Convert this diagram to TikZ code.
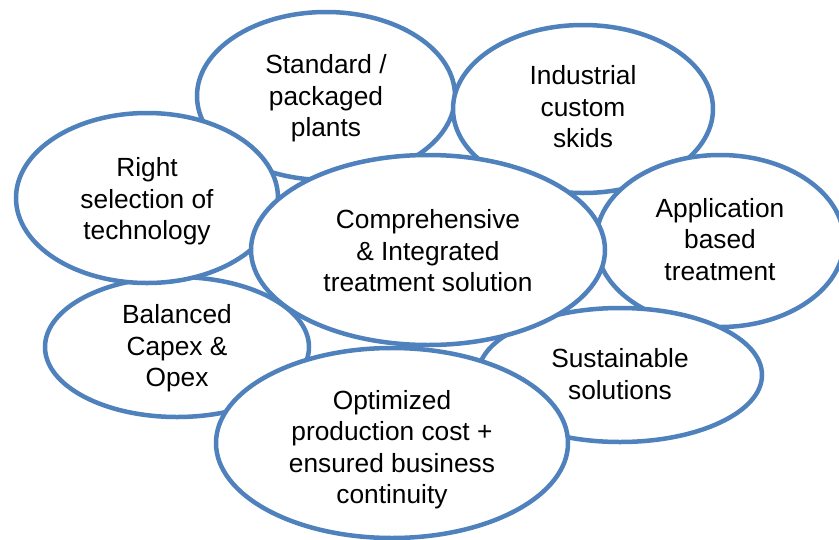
\documentclass[tikz,border=0pt]{standalone}
\usepackage{fontspec}
\setmainfont{Liberation Sans}
\usetikzlibrary{shapes.geometric}
\definecolor{bubbleblue}{RGB}{79,129,189}
% centred lines, lowered a little inside the bubble
\newcommand{\bubbletext}[2]{\raisebox{-#1}[\height][\depth]{\begin{tabular}{@{}c@{}}#2\end{tabular}}}

\begin{document}
\begin{tikzpicture}[x=1pt,y=-1pt,
    bubble/.style={ellipse,draw=bubbleblue,line width=4.5pt,fill=white,
      inner sep=0pt,font=\fontsize{26.3}{31.5}\selectfont}]
  \useasboundingbox (0,0) rectangle (839,539);
  % outer ring, back to front
  \node[bubble,minimum width=258pt,minimum height=168pt] (standard) at (326,96) {\bubbletext{3pt}{Standard /\\packaged\\plants}};
  \node[bubble,minimum width=264pt,minimum height=140pt] (balanced) at (177,347) {\bubbletext{2pt}{Balanced\\Capex \&\\Opex}};
  \node[bubble,minimum width=262pt,minimum height=170pt] (rightsel) at (147,198) {\bubbletext{4pt}{Right\\selection of\\technology}};
  \node[bubble,minimum width=260pt,minimum height=168pt] (industrial) at (583,109) {\bubbletext{1pt}{Industrial\\custom\\skids}};
  \node[bubble,minimum width=248pt,minimum height=172pt] (application) at (720,241) {\bubbletext{1.5pt}{Application\\based\\treatment}};
  \node[bubble,minimum width=284pt,minimum height=134pt] (sustainable) at (620,375) {\bubbletext{2pt}{Sustainable\\solutions}};
  % centre
  \node[bubble,minimum width=354pt,minimum height=190pt] (comprehensive) at (428,250) {\bubbletext{4pt}{Comprehensive\\\& Integrated\\treatment solution}};
  \node[bubble,minimum width=352pt,minimum height=190pt] (optimized) at (392,443) {\bubbletext{7pt}{Optimized\\production cost +\\ensured business\\continuity}};
\end{tikzpicture}
\end{document}
